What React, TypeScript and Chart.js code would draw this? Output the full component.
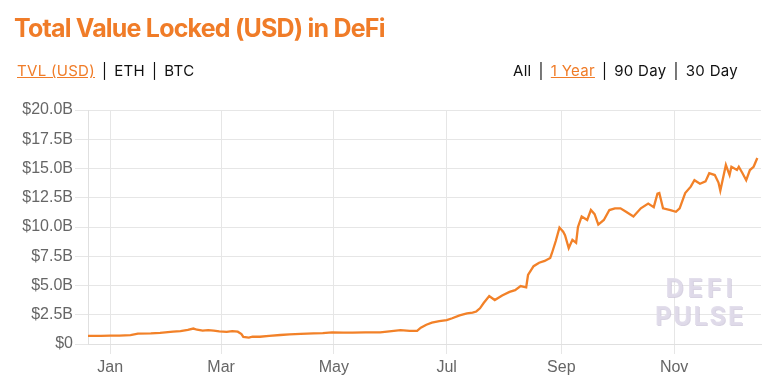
import React, { useEffect, useRef } from "react";
import { Chart, registerables } from "chart.js";

Chart.register(...registerables);

// Days since 2020-01-01
const dayOffsets = [
  -12, -5, 0, 5, 11, 15, 22, 27, 34, 38, 42, 45, 47, 50, 53, 56, 59, 63, 66, 69,
  71, 72, 75, 77, 81, 86, 92, 97, 103, 110, 115, 120, 126, 131, 138, 146, 151, 157, 162, 166,
  168, 171, 174, 178, 182, 185, 189, 193, 196, 198, 200, 202, 205, 208, 212, 216, 219, 222, 225, 226,
  229, 232, 235, 238, 239, 241, 243, 245, 246, 248, 250, 252, 253, 255, 258, 260, 262, 264, 267, 270,
  273, 276, 279, 283, 287, 291, 294, 296, 297, 299, 303, 306, 308, 311, 314, 316, 319, 322, 324, 327,
  329, 330, 333, 335, 336, 339, 340, 342, 344, 346, 348, 350,
];

// Total value locked, billions of USD
const tvlBillions = [
  0.70, 0.70, 0.71, 0.72, 0.76, 0.88, 0.90, 0.95, 1.05, 1.10, 1.20, 1.32, 1.22, 1.15, 1.18, 1.14, 1.08, 1.03, 1.10, 1.05,
  0.85, 0.60, 0.55, 0.62, 0.62, 0.70, 0.77, 0.82, 0.86, 0.91, 0.93, 1.00, 0.97, 0.97, 0.99, 1.00, 1.08, 1.18, 1.12, 1.12,
  1.40, 1.65, 1.82, 1.95, 2.05, 2.20, 2.45, 2.62, 2.68, 2.78, 3.05, 3.50, 4.10, 3.76, 4.15, 4.45, 4.60, 4.95, 4.85, 5.90,
  6.65, 6.95, 7.10, 7.35, 7.80, 8.80, 9.95, 9.60, 9.30, 8.20, 8.90, 8.65, 10.00, 10.90, 10.60, 11.45, 11.10, 10.20, 10.60, 11.45,
  11.60, 11.60, 11.30, 10.90, 11.60, 12.00, 11.70, 12.85, 12.90, 11.60, 11.45, 11.30, 11.60, 12.90, 13.45, 14.00, 13.70, 13.90, 14.60, 14.44,
  13.80, 13.10, 15.30, 14.44, 15.15, 14.87, 15.15, 14.60, 14.00, 14.87, 15.15, 15.90,
];

const monthTickDays = [0, 60, 121, 182, 244, 305];
const monthTickLabels = ["Jan", "Mar", "May", "Jul", "Sep", "Nov"];
const yTickValues = [0, 2.5, 5, 7.5, 10, 12.5, 15, 17.5, 20];
const yTickLabels = ["$0", "$2.5B", "$5.0B", "$7.5B", "$10.0B", "$12.5B", "$15.0B", "$17.5B", "$20.0B"];

const ORANGE = "#f07c28";
const LINE = "#f28128";
const AXIS_FONT = "Liberation Sans, Arial, sans-serif";

export default function App() {
  const ref = useRef<HTMLCanvasElement | null>(null);

  useEffect(() => {
    document.body.style.margin = "0";
    const canvas = ref.current;
    if (!canvas) return;
    const points = dayOffsets.map((d, i) => ({ x: d, y: tvlBillions[i] }));
    const chart = new Chart(canvas, {
      type: "line",
      data: {
        datasets: [
          {
            data: points,
            borderColor: LINE,
            borderWidth: 2.3,
            pointRadius: 0,
            tension: 0,
            fill: false,
          },
        ],
      },
      options: {
        animation: false,
        responsive: false,
        maintainAspectRatio: false,
        layout: { padding: { top: 110, right: 14, bottom: 0, left: 0 } },
        plugins: { legend: { display: false }, tooltip: { enabled: false } },
        scales: {
          x: {
            type: "linear",
            min: -12,
            max: 352,
            afterBuildTicks: (scale: any) => {
              scale.ticks = monthTickDays.map((v) => ({ value: v }));
            },
            afterFit: (scale: any) => {
              scale.height = 40;
            },
            ticks: {
              callback: (v: any) => {
                const i = monthTickDays.indexOf(Number(v));
                return i >= 0 ? monthTickLabels[i] : "";
              },
              color: "#666",
              font: { family: AXIS_FONT, size: 16 },
              padding: 4,
              maxRotation: 0,
              autoSkip: false,
            },
            grid: { color: "#e6e6e6", tickLength: 10, lineWidth: 1 },
            border: { color: "#e0e0e0" },
          },
          y: {
            min: 0,
            max: 20,
            afterBuildTicks: (scale: any) => {
              scale.ticks = yTickValues.map((v) => ({ value: v }));
            },
            afterFit: (scale: any) => {
              scale.width = 88;
            },
            ticks: {
              callback: (v: any) => {
                const i = yTickValues.indexOf(Number(v));
                return i >= 0 ? yTickLabels[i] : "";
              },
              color: "#666",
              font: { family: AXIS_FONT, size: 16 },
              padding: 2,
              autoSkip: false,
            },
            grid: { color: "#e6e6e6", tickLength: 13, lineWidth: 1 },
            border: { color: "#e0e0e0" },
          },
        },
      },
    });
    return () => chart.destroy();
  }, []);

  const sans = "Inter, 'Open Sans', sans-serif";
  const pipe = { padding: "0 7px", color: "#111" };

  return (
    <div style={{ position: "relative", width: 775, height: 384, background: "#fff", overflow: "hidden" }}>
      <canvas ref={ref} width={775} height={384} style={{ position: "absolute", left: 0, top: 0 }} />
      <div
        style={{
          position: "absolute",
          left: 14,
          top: 11,
          fontFamily: sans,
          fontWeight: 700,
          fontSize: 25,
          letterSpacing: -0.8,
          color: ORANGE,
          whiteSpace: "nowrap",
          lineHeight: "34px",
        }}
      >
        Total Value Locked (USD) in DeFi
      </div>
      <div
        style={{
          position: "absolute",
          left: 17,
          top: 61,
          fontFamily: sans,
          fontSize: 15,
          letterSpacing: 0.3,
          color: "#111",
          whiteSpace: "nowrap",
          lineHeight: "20px",
        }}
      >
        <span style={{ color: ORANGE, textDecoration: "underline" }}>TVL (USD)</span>
        <span style={pipe}>|</span>ETH<span style={pipe}>|</span>BTC
      </div>
      <div
        style={{
          position: "absolute",
          right: 37,
          top: 61,
          fontFamily: sans,
          fontSize: 15,
          letterSpacing: 0.3,
          color: "#111",
          whiteSpace: "nowrap",
          lineHeight: "20px",
        }}
      >
        All<span style={pipe}>|</span>
        <span style={{ color: ORANGE, textDecoration: "underline" }}>1 Year</span>
        <span style={pipe}>|</span>90 Day<span style={pipe}>|</span>30 Day
      </div>
      <div
        style={{
          position: "absolute",
          left: 654,
          top: 274,
          width: 90,
          textAlign: "center",
          fontFamily: sans,
          fontWeight: 700,
          fontSize: 25,
          lineHeight: "28px",
          color: "rgba(224,219,234,0.9)",
          textShadow: "1px 1px 0 rgba(200,192,214,0.7)",
        }}
      >
        <div style={{ letterSpacing: 4, marginRight: -4 }}>DEFI</div>
        <div style={{ letterSpacing: 2, marginRight: -2 }}>PULSE</div>
      </div>
    </div>
  );
}
